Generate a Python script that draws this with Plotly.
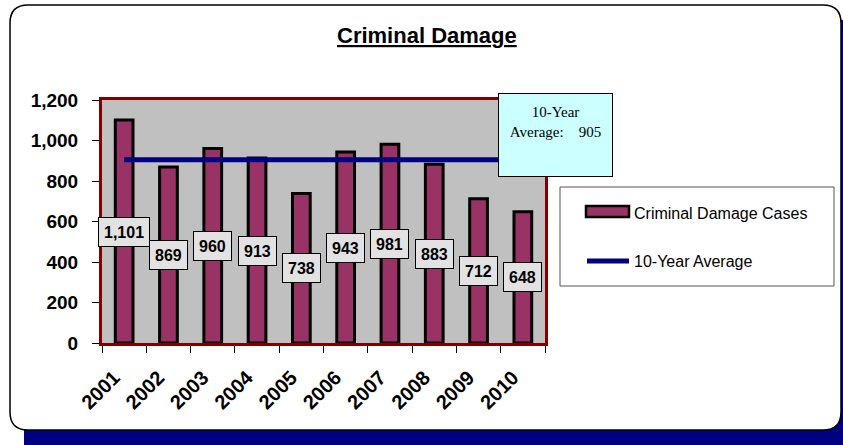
import plotly.graph_objects as go

years = ["2001", "2002", "2003", "2004", "2005", "2006", "2007", "2008", "2009", "2010"]
cases = [1101, 869, 960, 913, 738, 943, 981, 883, 712, 648]
average = 905
y_ticks = [0, 200, 400, 600, 800, 1000, 1200]

W, H = 843, 445
L, R, T, B = 102, 545, 100, 343


def px(x):
    return (x - L) / (R - L)


def py(y):
    return (B - y) / (B - T)


def round_rect(x0, y0, x1, y1, r):
    pts = [
        ("M", [(x0 + r, y0)]),
        ("L", [(x1 - r, y0)]),
        ("Q", [(x1, y0), (x1, y0 + r)]),
        ("L", [(x1, y1 - r)]),
        ("Q", [(x1, y1), (x1 - r, y1)]),
        ("L", [(x0 + r, y1)]),
        ("Q", [(x0, y1), (x0, y1 - r)]),
        ("L", [(x0, y0 + r)]),
        ("Q", [(x0, y0), (x0 + r, y0)]),
    ]
    s = ""
    for cmd, coords in pts:
        s += cmd + " " + " ".join(f"{px(a):.5f},{py(b):.5f}" for a, b in coords) + " "
    return s + "Z"


fig = go.Figure()

fig.add_trace(go.Bar(
    x=years, y=cases, width=0.4,
    marker=dict(color="#993366", line=dict(color="black", width=3)),
    name="Criminal Damage Cases", showlegend=False,
))
fig.add_trace(go.Scatter(
    x=years, y=[average] * len(years), mode="lines",
    line=dict(color="#000080", width=5),
    name="10-Year Average", showlegend=False,
))

shapes = [
    # shadow and panel
    dict(type="path", path=round_rect(24, 20, 870, 470, 18), xref="paper", yref="paper",
         fillcolor="#000080", line=dict(width=0), layer="below"),
    dict(type="path", path=round_rect(10, 5, 841, 430, 18), xref="paper", yref="paper",
         fillcolor="white", line=dict(color="black", width=1.5), layer="below"),
    # plot area
    dict(type="rect", x0=0, x1=1, y0=0, y1=1, xref="paper", yref="paper",
         fillcolor="#C0C0C0", line=dict(width=0), layer="below"),
    # legend box
    dict(type="rect", x0=px(560), x1=px(834), y0=py(187), y1=py(286), xref="paper", yref="paper",
         fillcolor="white", line=dict(color="#555555", width=1)),
    dict(type="rect", x0=px(586), x1=px(629), y0=py(206), y1=py(217), xref="paper", yref="paper",
         fillcolor="#993366", line=dict(color="black", width=2.5)),
    dict(type="line", x0=px(587), x1=px(629), y0=py(261), y1=py(261), xref="paper", yref="paper",
         line=dict(color="#000080", width=5)),
]

annotations = [
    dict(text="<b><u>Criminal Damage</u></b>", x=px(427), y=py(35), xref="paper", yref="paper",
         xanchor="center", yanchor="middle", showarrow=False,
         font=dict(family="Liberation Sans, Arial", size=22, color="black")),
    dict(text="Criminal Damage Cases", x=px(632), y=py(213), xref="paper", yref="paper",
         xanchor="left", showarrow=False, font=dict(family="Liberation Sans, Arial", size=16, color="black")),
    dict(text="10-Year Average", x=px(632), y=py(261), xref="paper", yref="paper",
         xanchor="left", showarrow=False, font=dict(family="Liberation Sans, Arial", size=16, color="black")),
    dict(text="10-Year<br>Average:\u00a0\u00a0\u00a0 " + str(average), x=px(555.5), y=py(93),
         xref="paper", yref="paper", xanchor="center", yanchor="top", showarrow=False,
         width=93, height=62, valign="top",
         bgcolor="#CCFFFF", bordercolor="black", borderwidth=1, borderpad=10,
         font=dict(family="Liberation Serif, Times New Roman", size=15, color="black")),
]
# category index positions (numeric strings would be read as positions)
for i, v in enumerate(cases):
    annotations.append(dict(
        text=f"<b>{v:,}</b>", x=i, y=v / 2, xref="x", yref="y", showarrow=False,
        xanchor="center", yanchor="middle",
        bgcolor="#E2E2E2", bordercolor="black", borderwidth=1, borderpad=5, height=18,
        font=dict(family="Liberation Sans, Arial", size=16, color="black"),
    ))

fig.update_layout(
    width=W, height=H,
    margin=dict(l=L, r=W - R, t=T, b=H - B),
    paper_bgcolor="white", plot_bgcolor="rgba(0,0,0,0)",
    shapes=shapes, annotations=annotations, showlegend=False,
)
fig.update_xaxes(
    type="category", range=[-0.5, 9.5], tickangle=-45, ticks="outside", tickson="boundaries",
    ticklen=7, tickcolor="black", showline=True, mirror=True, linecolor="#800000", linewidth=3,
    showgrid=False, automargin=False, ticklabelstandoff=12, ticklabelshift=-10,
    tickfont=dict(family="Liberation Sans, Arial", size=20, color="black", weight="bold"),
)
fig.update_yaxes(
    range=[0, 1200], tickvals=y_ticks, tickformat=",", ticks="outside", ticklen=7,
    tickcolor="black", showline=True, mirror=True, linecolor="#800000", linewidth=3,
    showgrid=False, zeroline=False, ticklabelstandoff=10, automargin=False,
    tickfont=dict(family="Liberation Sans, Arial", size=19, color="black", weight="bold"),
)

fig.write_html("out.html", config={"displayModeBar": False},
               post_script="document.body.style.margin='0';")
